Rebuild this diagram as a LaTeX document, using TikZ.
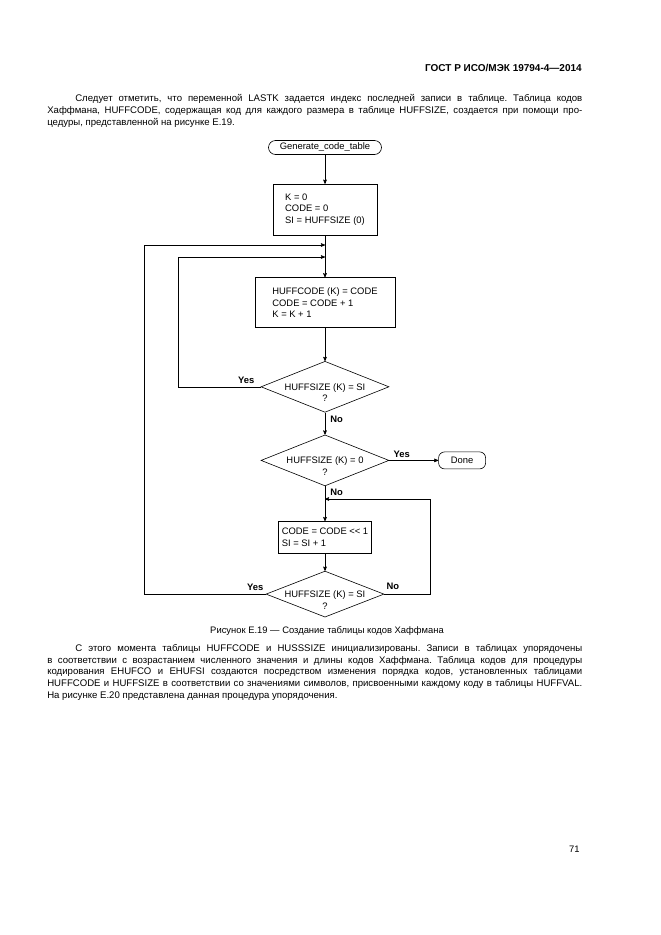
\documentclass[tikz,border=0pt]{standalone}
\usepackage{fontspec}
\setmainfont{Liberation Sans}
\usetikzlibrary{arrows,positioning,shapes.geometric}

\frenchspacing
\newcommand{\ask}[1]{\smash{\raisebox{-3.4pt}{\begin{tabular}[t]{@{}c@{}}#1\\?\end{tabular}}}}
\newcommand{\bodytext}{\fontsize{9.6}{11.8}\selectfont\tolerance=9999\hyphenpenalty=10000
  \spaceskip=0.278em plus 0.4em minus 0.12em\xspaceskip=\spaceskip}

\begin{document}
\begin{tikzpicture}[->,>=stealth',x=1pt,y=-1pt,line width=0.6pt,
                    node distance=20pt]
\tikzstyle{term}=[draw,rounded corners=7pt,minimum height=14pt,inner sep=0pt]
\tikzstyle{proc}=[draw,align=left,inner sep=0pt]
\tikzstyle{test}=[draw,diamond,aspect=2.5,inner sep=0pt]
\tikzstyle{lbl}=[inner sep=0pt,font=\fontsize{9.4}{11}\selectfont\bfseries]
\tikzset{font=\fontsize{9.4}{11.5}\selectfont}

\useasboundingbox (0,0) rectangle (661,935);

        % page text
        \node[anchor=base east,inner sep=0pt,font=\fontsize{10}{12}\selectfont\bfseries] (gost) at (582,71.5) {ГОСТ Р ИСО/МЭК 19794-4—2014};

        \node[anchor=north west,text width=535pt,align=justify,inner sep=0pt,font=\bodytext] (par1) at (47,94)
        {\hspace*{28pt}Следует отметить, что переменной LASTK задается индекс последней записи в таблице. Таблица кодов\linebreak
        Хаффмана, HUFFCODE, содержащая код для каждого размера в таблице HUFFSIZE, создается при помощи про-\linebreak
        цедуры, представленной на рисунке Е.19.};

        % flowchart
        \node[term,minimum width=113pt]                        (start) at (325,147.5)   {Generate\_code\_table};
        \node[proc,minimum width=104pt,minimum height=51pt]    (init)  [below=29pt of start] {K = 0\\CODE = 0\\SI = HUFFSIZE (0)};
        \node[proc,minimum width=140pt,minimum height=50pt]    (calc)  [below=42pt of init]  {HUFFCODE (K) = CODE\\CODE = CODE + 1\\K = K + 1};
        \node[test,minimum width=128pt,minimum height=51pt]    (d1)    [below=33pt of calc]  {\ask{HUFFSIZE (K) = SI}};
        \node[test,minimum width=128pt,minimum height=51pt]    (d2)    [below=22pt of d1]    {\ask{HUFFSIZE (K) = 0}};
        \node[term,minimum width=47pt,minimum height=17pt,rounded corners=6pt] (done) [right=49pt of d2] {Done};
        \node[proc,minimum width=93pt,minimum height=32pt]     (shift) [below=35pt of d2]    {CODE = CODE {<}{<} 1\\SI = SI + 1};
        \node[test,minimum width=118pt,minimum height=46pt]    (d3)    [below=17pt of shift] {\ask{HUFFSIZE (K) = SI}};

        \coordinate (oL) at (144.5,245);
        \coordinate (iL) at (178,257);
        \coordinate (rR) at (430.5,499);

        \path[->]
        (start) edge (init)
        (init)  edge (calc)
        (calc)  edge (d1)
        (d1)    edge node[lbl,anchor=north west,pos=0,xshift=5pt,yshift=-3.5pt] {No} (d2)
        (d2)    edge node[lbl,anchor=south west,pos=0,xshift=4pt,yshift=2.5pt] {Yes} (done)
        (d2)    edge node[lbl,anchor=north west,pos=0,xshift=5pt,yshift=-2.5pt] {No} (shift)
        (shift) edge (d3)
        ; %end path

        % loops back
        \draw (d1.west) node[lbl,anchor=south east,xshift=-6pt,yshift=2.5pt] {Yes} -| (iL) -- (iL -| init.south);
        \draw (d3.west) node[lbl,anchor=south east,xshift=-2pt,yshift=3pt] {Yes} -| (oL) -- (oL -| init.south);
        \draw (d3.east) node[lbl,anchor=south west,xshift=2pt,yshift=4.5pt] {No} -| (rR) -- (rR -| d2.south);

        \node[anchor=base,inner sep=0pt] (cap) at (327,633.5) {Рисунок Е.19 — Создание таблицы кодов Хаффмана};

        \node[anchor=north west,text width=535pt,align=justify,inner sep=0pt,font=\bodytext] (par2) at (47,644)
        {\hspace*{28pt}С этого момента таблицы HUFFCODE и HUSSSIZE инициализированы. Записи в таблицах упорядочены\linebreak
        в соответствии с возрастанием численного значения и длины кодов Хаффмана. Таблица кодов для процедуры\linebreak
        кодирования EHUFCO и EHUFSI создаются посредством изменения порядка кодов, установленных таблицами\linebreak
        HUFFCODE и HUFFSIZE в соответствии со значениями символов, присвоенными каждому коду в таблицы HUFFVAL.\linebreak
        На рисунке Е.20 представлена данная процедура упорядочения.};

        \node[anchor=base east,inner sep=0pt] (pnum) at (580,852) {71};

\end{tikzpicture}
\end{document}
